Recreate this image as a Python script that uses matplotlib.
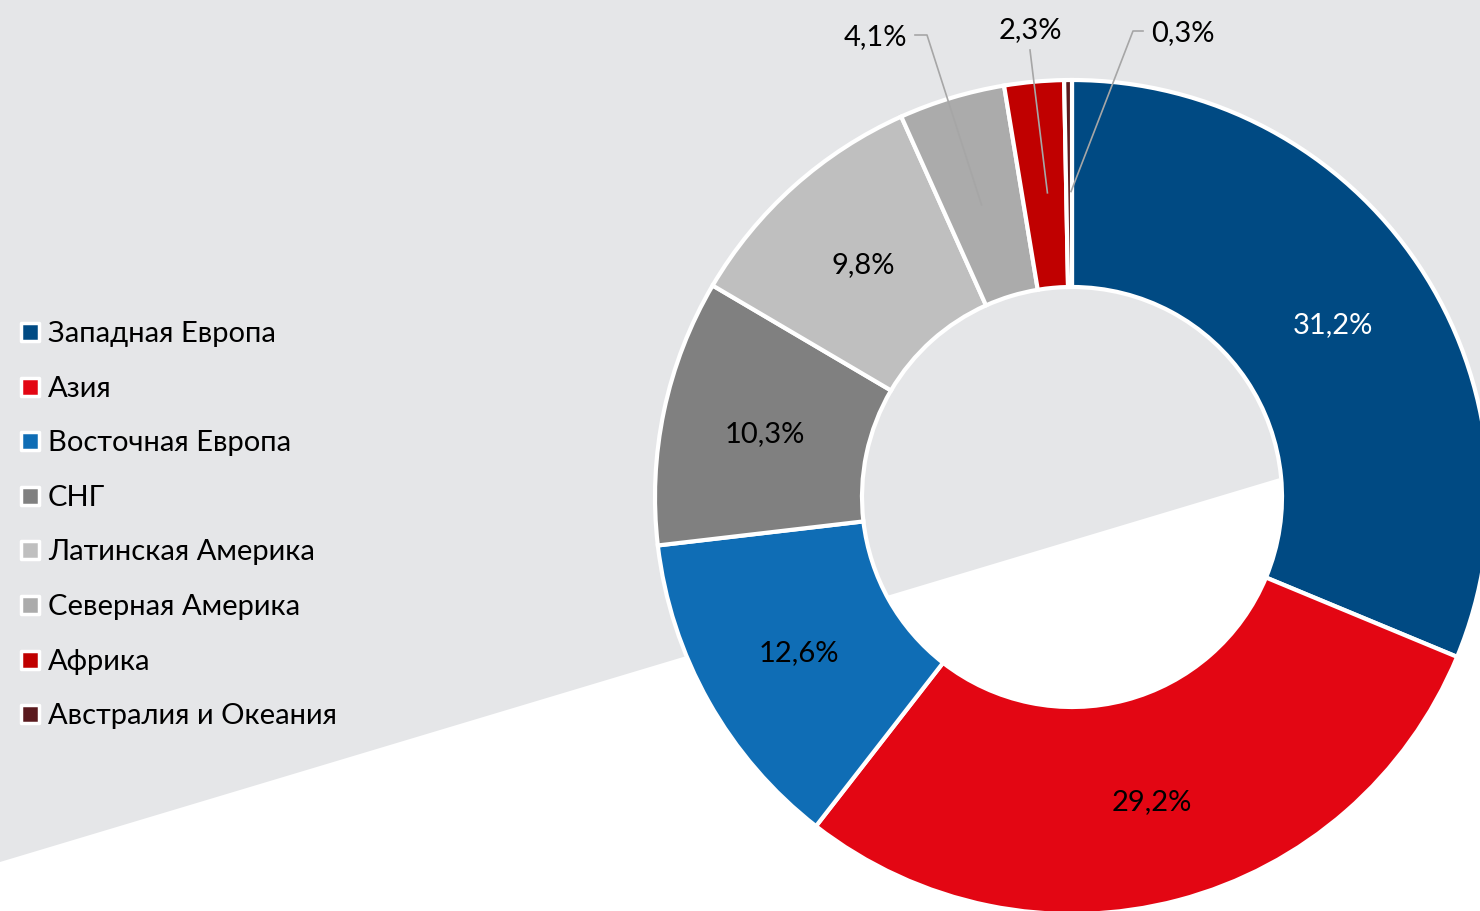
import matplotlib.pyplot as plt
import numpy as np
from matplotlib.patches import Polygon

plt.rcParams['font.family'] = ['Lato', 'DejaVu Sans']

regions = ["Западная Европа", "Азия", "Восточная Европа", "СНГ",
           "Латинская Америка", "Северная Америка", "Африка",
           "Австралия и Океания"]
shares = [31.2, 29.2, 12.6, 10.3, 9.8, 4.1, 2.3, 0.3]
labels = ["31,2%", "29,2%", "12,6%", "10,3%", "9,8%", "4,1%", "2,3%", "0,3%"]
colors = ["#004A83", "#E30613", "#0F6DB5", "#808080", "#BFBFBF",
          "#ABABAB", "#C00000", "#5A1A1E"]

W, H = 1480, 911
fig = plt.figure(figsize=(W / 100, H / 100), dpi=100)
ax = fig.add_axes([0, 0, 1, 1])

# grey diagonal background
ax.add_patch(Polygon([(0, H - 862), (0, H), (W, H), (W, H - 418)],
                     closed=True, facecolor="#E5E6E8", edgecolor="none", zorder=0))

cx, cy = 1072, H - 497
R, r_in = 417, 210
wedges, _ = ax.pie(shares, colors=colors, startangle=90, counterclock=False,
                   radius=R, center=(cx, cy), frame=True,
                   wedgeprops=dict(width=R - r_in, edgecolor="white", linewidth=3))
ax.set_xlim(0, W)
ax.set_ylim(0, H)
ax.set_aspect('equal')
ax.axis('off')

fs = 21
dy = -2  # small baseline nudge for text
r_mid = (R + r_in) / 2
# outside labels for the small slices
outside = {5: (875, H - 35), 6: (1030, H - 28), 7: (1183, H - 31)}
for i, w in enumerate(wedges):
    ang = np.deg2rad((w.theta1 + w.theta2) / 2)
    px, py = cx + r_mid * np.cos(ang), cy + r_mid * np.sin(ang)
    if i in outside:
        tx, ty = outside[i]
        ax.text(tx, ty + dy, labels[i], ha="center", va="center", fontsize=fs, color="black")
        if i == 5:
            ax.plot([tx + 40, tx + 52, px], [ty, ty, py - 8], color="#A6A6A6", lw=1.2)
        elif i == 6:
            ax.plot([tx, px + 4], [ty - 22, py - 8], color="#A6A6A6", lw=1.2)
        else:
            ax.plot([tx - 40, tx - 50, px + 2], [ty, ty, py - 8], color="#A6A6A6", lw=1.2)
    else:
        ax.text(px, py + dy, labels[i], ha="center", va="center", fontsize=fs,
                color="white" if i == 0 else "black")

# legend
for i, name in enumerate(regions):
    y = H - (332 + i * 54.6)
    ax.scatter([30], [y], marker="s", s=160, color=colors[i], edgecolors="white",
               linewidths=2.5, zorder=5)
    ax.text(48, y + dy, name, ha="left", va="center", fontsize=fs, color="black")

fig.savefig("out.png", dpi=100)
